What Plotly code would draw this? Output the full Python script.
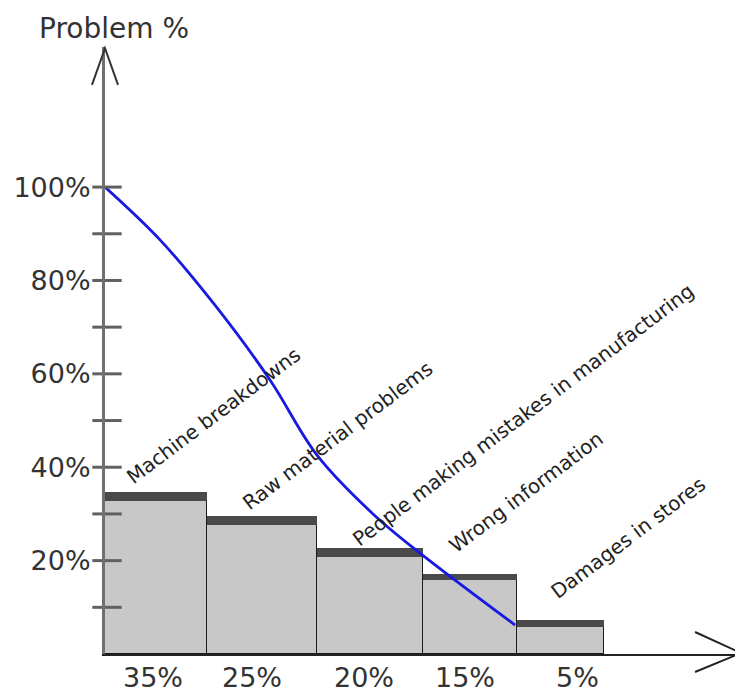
import plotly.graph_objects as go

# ---- data ----
categories = ["Machine breakdowns", "Raw material problems",
              "People making mistakes in manufacturing",
              "Wrong information", "Damages in stores"]
share_labels = ["35%", "25%", "20%", "15%", "5%"]
bar_values = [32.8, 27.6, 20.8, 15.8, 5.8]          # grey bar body (%)
top_depth = [1.9, 1.9, 1.9, 1.4, 1.4]               # dark "3D" top slab (%)
curve_x = [0, 0.55, 1.10, 1.65, 2.12, 2.68, 3.15, 4.10]
curve_y = [100, 88.7, 74.7, 58.7, 42.6, 30.0, 21.6, 6.2]
y_ticks = [20, 40, 60, 80, 100]
y_minor = [10, 20, 30, 40, 50, 60, 70, 80, 90, 100]

# ---- layout helpers (positions/sizes) ----
bar_edges = [0, 1.02, 2.12, 3.18, 4.12, 4.99]
bar_centers = [(a + b) / 2 for a, b in zip(bar_edges[:-1], bar_edges[1:])]
bar_widths = [b - a for a, b in zip(bar_edges[:-1], bar_edges[1:])]
xlabel_pos = [0.48, 1.47, 2.59, 3.60, 4.72]
label_pos = [(1.08, 51.0), (2.32, 46.7), (4.18, 51.2), (4.21, 34.7), (5.23, 24.8)]

FONT = "DejaVu Sans"

fig = go.Figure()
fig.add_trace(go.Bar(x=bar_centers, y=bar_values, width=bar_widths,
                     marker=dict(color="rgb(200,200,200)",
                                 line=dict(color="#1a1a1a", width=1.5)),
                     hoverinfo="skip"))
fig.add_trace(go.Bar(x=bar_centers, y=top_depth, width=bar_widths,
                     marker=dict(color="#4a4a4a", line=dict(color="#4a4a4a", width=0)),
                     hoverinfo="skip"))
fig.add_trace(go.Scatter(x=curve_x, y=curve_y, mode="lines",
                         line=dict(color="rgb(25,25,225)", width=2.8, shape="spline",
                                   smoothing=1.0),
                         hoverinfo="skip"))
fig.add_trace(go.Scatter(x=[0.02] * len(y_minor), y=y_minor, mode="markers",
                         marker=dict(symbol="line-ew", size=21,
                                     line=dict(color="#606060", width=3)),
                         cliponaxis=False, hoverinfo="skip"))

for (lx, ly), txt in zip(label_pos, categories):
    fig.add_annotation(x=lx, y=ly, text=txt, showarrow=False, textangle=-37,
                       xanchor="center", yanchor="middle",
                       font=dict(family=FONT, size=20, color="#222"))

for lx, txt in zip(xlabel_pos, share_labels):
    fig.add_annotation(x=lx, xref="x", yref="paper", y=-0.038, text=txt,
                       showarrow=False, xanchor="center", yanchor="middle",
                       font=dict(family=FONT, size=27, color="#333"))

fig.add_annotation(xref="paper", yref="paper", x=0.014, y=1.031, text="Problem %",
                   showarrow=False, xanchor="center", yanchor="middle",
                   font=dict(family=FONT, size=28, color="#333"))

# arrow heads
fig.add_shape(type="path", xref="paper", yref="paper",
              path="M -0.0204 0.9375 L 0 0.998 L 0.0204 0.9375",
              line=dict(color="#333", width=2))
fig.add_shape(type="path", xref="paper", yref="paper",
              path="M 0.9248 0.0362 L 0.997 0.0016 L 0.9248 -0.0296",
              line=dict(color="#222", width=2))

# page body has an 8px default margin, so the figure is 8px smaller
fig.update_layout(
    width=735, height=685, barmode="stack", bargap=0,
    margin=dict(l=97, r=0, t=39, b=39, autoexpand=False),
    paper_bgcolor="white", plot_bgcolor="white", showlegend=False,
    xaxis=dict(range=[0, 6.38], showgrid=False, zeroline=False, automargin=False,
               showline=True, linecolor="#222", linewidth=2,
               showticklabels=False, ticks=""),
    yaxis=dict(range=[0, 130.0], showgrid=False, zeroline=False, automargin=False,
               showline=True, linecolor="#707070", linewidth=3,
               tickvals=y_ticks, ticktext=[f"{v}%" for v in y_ticks], ticks="",
               ticklabelstandoff=6,
               tickfont=dict(family=FONT, size=27, color="#333")),
)

fig.write_html("out.html")
